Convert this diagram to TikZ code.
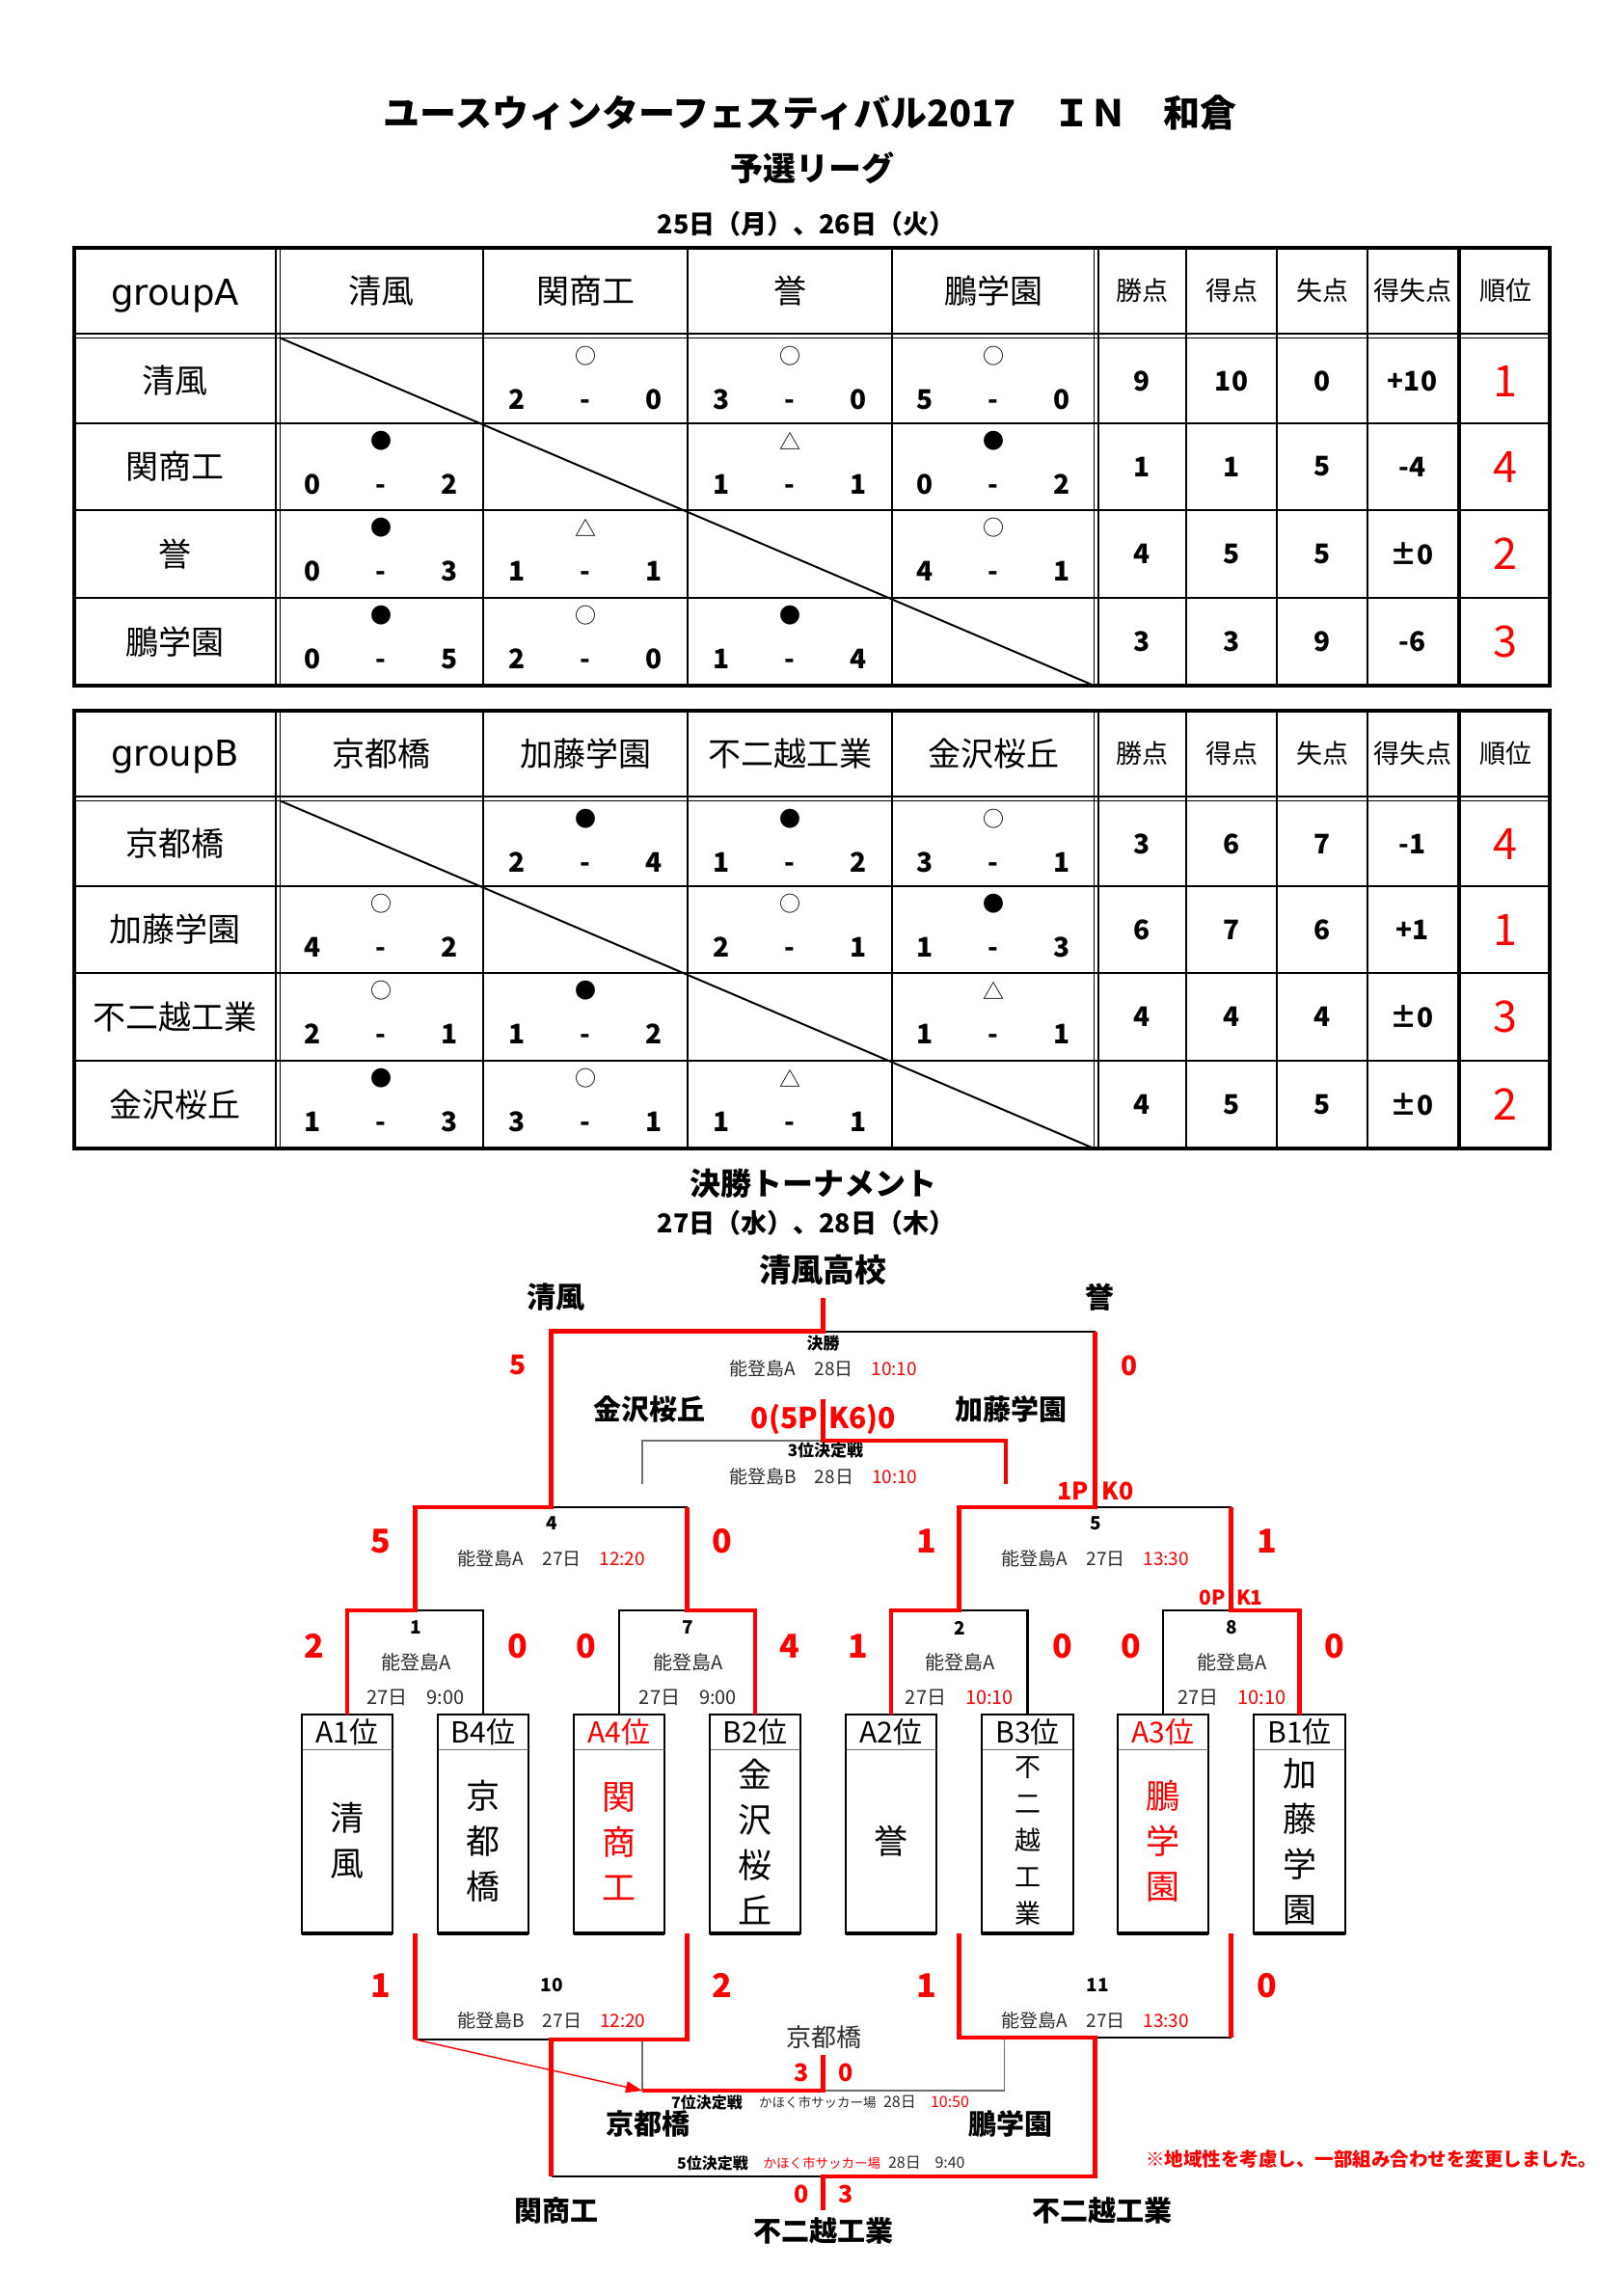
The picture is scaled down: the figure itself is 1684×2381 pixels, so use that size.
\documentclass[tikz,border=0pt]{standalone}
\usepackage{fontspec}
\setmainfont{Noto Sans CJK JP}
\newfontfamily\dvs{DejaVu Sans}
\usetikzlibrary{arrows.meta}
\definecolor{rd}{RGB}{255,0,0}
\definecolor{dk}{RGB}{45,45,45}
\definecolor{gy}{RGB}{110,110,110}
\newcommand\fpx[1]{\fontsize{\fpeval{#1*0.3535}pt}{\fpeval{#1*0.42}pt}\selectfont}
\newcommand\fpxs[2]{\fontsize{\fpeval{#1*0.3535}pt}{\fpeval{#2*0.3535}pt}\selectfont}
% match cell: prefix, x centre, row top, symbol, left score, right score
\newcommand\mcell[6]{%
  \node[symf] (#1s) at ({#2},{#3+18}) {#4};
  \node[scf] (#1a) at ({#2-71},{#3+73}) {#5};
  \node[scf] (#1m) at ({#2},{#3+73}) {-};
  \node[scf] (#1b) at ({#2+71},{#3+73}) {#6};}
% stats row: prefix, y centre, pts, gf, ga, gd, rank
\newcommand\srow[7]{%
  \node[stf] (#1w) at (1184.5,#2) {#3};
  \node[stf] (#1g) at (1277,#2) {#4};
  \node[stf] (#1l) at (1371,#2) {#5};
  \node[stf] (#1d) at (1464.5,#2) {#6};
  \node[rkf] (#1r) at (1561,#2) {#7};}
\newcommand\tgrid{%
  \draw[tin] (77,439) -- (1607,439) (77,529) -- (1607,529) (77,620) -- (1607,620);
  \draw[tin] (77,346) -- (1607,346) (77,350.5) -- (1607,350.5);
  \foreach \xx in {286,290.5,501,713,925,1134.5,1139,1230,1324,1418} \draw[tin] (\xx,257) -- (\xx,711);
  \draw[line width=1.4pt] (1513,257) -- (1513,711);
  \draw[tout] (77,257) rectangle (1607,711);
  \draw[line width=0.7pt] (290.5,350.5) -- (1134.5,711);}
\begin{document}
\begin{tikzpicture}[x=0.3535pt,y=-0.3535pt,
  every node/.style={inner sep=0pt,outer sep=0pt},
  tin/.style={line width=0.6pt},
  tout/.style={line width=1.3pt},
  symf/.style={font=\fpx{22}},
  scf/.style={font=\fpx{28}\bfseries,anchor=base},
  stf/.style={font=\fpx{28}\bfseries},
  rkf/.style={font=\fpx{45},text=rd},
  hdf/.style={font=\fpx{34}},
  shf/.style={font=\fpx{27}},
  bk/.style={line width=0.75pt},
  rl/.style={draw=rd,line width=1.6pt},
  gl/.style={draw=gy,line width=0.4pt},
  box/.style={draw,line width=0.8pt,minimum width=33.4pt,minimum height=80.2pt},
  inf/.style={font=\fpx{19},text=dk},
  mn/.style={font=\fpx{19}\bfseries},
  sr/.style={font=\fpx{34}\bfseries,text=rd},
  srs/.style={font=\fpx{28}\bfseries,text=rd},
  tn/.style={font=\fpx{29}\bfseries},
  vt/.style={font=\fpxs{35}{47},align=center},
]
\fill[white] (0,0) rectangle (1684,2381);
\useasboundingbox (0,0) rectangle (1684,2381);

% ---------- titles ----------
\node[font=\fpx{38}\bfseries] (title) at (840,117) {ユースウィンターフェスティバル2017　ＩＮ　和倉};
\node[font=\fpx{34}\bfseries] (sub1) at (842,174) {予選リーグ};
\node[font=\fpx{27}\bfseries] (sub2) at (836,232) {25日（月）、26日（火）};

% ---------- group A ----------
\tgrid
\node[font=\dvs\fpx{37}] (gA) at (181.5,307) {groupA};
\node[hdf] (hA1) at (395,301.5) {清風};
\node[hdf] (hA2) at (607,301.5) {関商工};
\node[hdf] (hA3) at (819,301.5) {誉};
\node[hdf] (hA4) at (1030,301.5) {鵬学園};
\node[shf] (hAw) at (1184.5,301.5) {勝点};
\node[shf] (hAg) at (1277,301.5) {得点};
\node[shf] (hAl) at (1371,301.5) {失点};
\node[shf] (hAd) at (1464.5,301.5) {得失点};
\node[shf] (hAr) at (1561,301.5) {順位};
\node[hdf] (rA1) at (181.5,395) {清風};
\node[hdf] (rA2) at (181.5,484) {関商工};
\node[hdf] (rA3) at (181.5,574.5) {誉};
\node[hdf] (rA4) at (181.5,665.5) {鵬学園};
\mcell{A12}{607}{351}{○}{2}{0}
\mcell{A13}{819}{351}{○}{3}{0}
\mcell{A14}{1030}{351}{○}{5}{0}
\mcell{A21}{395}{439}{●}{0}{2}
\mcell{A23}{819}{439}{△}{1}{1}
\mcell{A24}{1030}{439}{●}{0}{2}
\mcell{A31}{395}{529}{●}{0}{3}
\mcell{A32}{607}{529}{△}{1}{1}
\mcell{A34}{1030}{529}{○}{4}{1}
\mcell{A41}{395}{620}{●}{0}{5}
\mcell{A42}{607}{620}{○}{2}{0}
\mcell{A43}{819}{620}{●}{1}{4}
\srow{SA1}{395}{9}{10}{0}{+10}{1}
\srow{SA2}{484}{1}{1}{5}{-4}{4}
\srow{SA3}{574.5}{4}{5}{5}{±0}{2}
\srow{SA4}{665.5}{3}{3}{9}{-6}{3}

% ---------- group B ----------
\begin{scope}[shift={(0,480)}]
\tgrid
\node[font=\dvs\fpx{37}] (gB) at (181.5,305) {groupB};
\node[hdf] (hB1) at (395,301.5) {京都橋};
\node[hdf] (hB2) at (607,301.5) {加藤学園};
\node[hdf] (hB3) at (819,301.5) {不二越工業};
\node[hdf] (hB4) at (1030,301.5) {金沢桜丘};
\node[shf] (hBw) at (1184.5,301.5) {勝点};
\node[shf] (hBg) at (1277,301.5) {得点};
\node[shf] (hBl) at (1371,301.5) {失点};
\node[shf] (hBd) at (1464.5,301.5) {得失点};
\node[shf] (hBr) at (1561,301.5) {順位};
\node[hdf] (rB1) at (181.5,395) {京都橋};
\node[hdf] (rB2) at (181.5,484) {加藤学園};
\node[hdf] (rB3) at (181.5,574.5) {不二越工業};
\node[hdf] (rB4) at (181.5,665.5) {金沢桜丘};
\mcell{B12}{607}{351}{●}{2}{4}
\mcell{B13}{819}{351}{●}{1}{2}
\mcell{B14}{1030}{351}{○}{3}{1}
\mcell{B21}{395}{439}{○}{4}{2}
\mcell{B23}{819}{439}{○}{2}{1}
\mcell{B24}{1030}{439}{●}{1}{3}
\mcell{B31}{395}{529}{○}{2}{1}
\mcell{B32}{607}{529}{●}{1}{2}
\mcell{B34}{1030}{529}{△}{1}{1}
\mcell{B41}{395}{620}{●}{1}{3}
\mcell{B42}{607}{620}{○}{3}{1}
\mcell{B43}{819}{620}{△}{1}{1}
\srow{SB1}{395}{3}{6}{7}{-1}{4}
\srow{SB2}{484}{6}{7}{6}{+1}{1}
\srow{SB3}{574.5}{4}{4}{4}{±0}{3}
\srow{SB4}{665.5}{4}{5}{5}{±0}{2}
\end{scope}

% ---------- tournament titles ----------
\node[font=\fpx{32}\bfseries] (sub3) at (843,1227) {決勝トーナメント};
\node[font=\fpx{27}\bfseries] (sub4) at (836,1268) {27日（水）、28日（木）};

% ---------- boxes ----------
\foreach \nm/\xc/\lab/\col in {A1/360/A1位/black,B4/501/B4位/black,A4/642/A4位/rd,B2/783/B2位/black,A2/924/A2位/black,B3/1065.5/B3位/black,A3/1206/A3位/rd,B1/1347.5/B1位/black}{
  \node[box] (b\nm) at (\xc,1891.5) {};
  \draw[draw=gy,line width=0.4pt] ({\xc-46.5},1814.6) -- ({\xc+46.5},1814.6);
  \draw[line width=1.3pt] (b\nm.south west) -- (b\nm.south east);
  \node[font=\fpx{30},text=\col] (l\nm) at (\xc,1796) {\lab};
}
\node[vt] (nA1) at (360,1908.5) {清\\風};
\node[vt] (nB4) at (501,1909.5) {京\\都\\橋};
\node[vt,text=rd] (nA4) at (642,1909.5) {関\\商\\工};
\node[vt] (nB2) at (783,1909.5) {金\\沢\\桜\\丘};
\node[vt] (nA2) at (924,1909.5) {誉};
\node[font=\fpxs{27}{38},align=center] (nB3) at (1065.5,1909) {不\\二\\越\\工\\業};
\node[vt,text=rd] (nA3) at (1206,1909.5) {鵬\\学\\園};
\node[vt] (nB1) at (1347.5,1909.5) {加\\藤\\学\\園};

% ---------- bracket coordinates ----------
\coordinate (m1) at (430.5,1670);
\coordinate (m7) at (712.5,1670);
\coordinate (m2) at (994.5,1670);
\coordinate (m8) at (1276.5,1670);
\coordinate (m4) at (571.5,1563);
\coordinate (m5) at (1135.5,1563);
\coordinate (fin) at (853.5,1380.6);
\coordinate (stemtop) at (853.5,1346);
\coordinate (t3) at (853.5,1494);
\coordinate (t3L) at (666,1539);
\coordinate (t3R) at (1043,1539);
\coordinate (t3top) at (853.5,1451);
\coordinate (l10a) at (430.5,2005);
\coordinate (l10b) at (712.5,2005);
\coordinate (m10) at (571.5,2115);
\coordinate (l11a) at (994.5,2005);
\coordinate (l11b) at (1276.5,2005);
\coordinate (m11) at (1135.5,2113);
\coordinate (p5) at (853.5,2257);
\coordinate (p5b) at (853.5,2292);
\coordinate (a7) at (666,2168);
\coordinate (g7L) at (666,2115);
\coordinate (p7) at (853.5,2168);
\coordinate (p7top) at (853.5,2131);
\coordinate (g7R) at (1041.6,2113);

% black lines
\draw[bk] (bB4.north) |- (m1);
\draw[bk] (bA4.north) |- (m7);
\draw[bk] (bB3.north) |- (m2);
\draw[bk] (bA3.north) |- (m8);
\draw[bk] (m4) -- (m7 |- m4);
\draw[bk] (m5) -- (m8 |- m5);
\draw[bk] (fin) -- (m5 |- fin);
\draw[bk] (l10a |- m10) -- (m10);
\draw[bk] (m11) -- (l11b |- m11);
\draw[bk] (m10 |- p5) -- (p5);
% grey lines
\draw[gl] (t3L) |- (t3);
\draw[gl] (g7L) -- (a7);
\draw[gl] (g7R) |- (p7);
% red lines
\draw[rl] (bA1.north) |- (m1) |- (m4) |- (fin) -- (stemtop);
\draw[rl] (bB2.north) |- (m7) -- (m7 |- m4);
\draw[rl] (bA2.north) |- (m2) |- (m5) -- (m5 |- fin);
\draw[rl] (bB1.north) |- (m8) -- (m8 |- m5);
\draw[rl] (t3R) |- (t3) -- (t3top);
\draw[rl] (l10a) -- (l10a |- m10);
\draw[rl] (l10b) |- (m10) -- (m10 |- p5);
\draw[rl] (l11b) -- (l11b |- m11);
\draw[rl] (l11a) |- (m11) -- (m11 |- p5) -- (p5) -- (p5b);
\draw[rl] (a7) -- (p7) -- (p7top);
\draw[draw=rd,line width=0.5pt,-{Triangle[length=6pt,width=4.2pt]}] (l10a |- m10) -- (a7);

% ---------- tournament labels ----------
\node[font=\fpx{33}\bfseries] (champ) at (853.5,1317) {清風高校};
\node[font=\fpx{30}\bfseries] (fL) at (576,1345) {清風};
\node[font=\fpx{30}\bfseries] (fR) at (1140.5,1345) {誉};
\node[srs] (fsL) at (537,1416) {5};
\node[srs] (fsR) at (1171,1416) {0};
\node[font=\fpx{17}\bfseries] (finT) at (853.5,1393) {決勝};
\node[inf] (finI) at (854,1419) {能登島A　28日　\textcolor{rd}{10:10}};
\node[tn] (t3a) at (673,1461) {金沢桜丘};
\node[tn] (t3b) at (1048,1461) {加藤学園};
\node[font=\fpx{30}\bfseries,text=rd,anchor=east] (t3sL) at (848,1472) {0(5P};
\node[font=\fpx{30}\bfseries,text=rd,anchor=west] (t3sR) at (859,1472) {K6)0};
\node[font=\fpx{17}\bfseries] (t3T) at (856,1504) {3位決定戦};
\node[inf] (t3I) at (854,1531) {能登島B　28日　\textcolor{rd}{10:10}};
\node[font=\fpx{25}\bfseries,text=rd,anchor=east] (pk5L) at (1129,1546) {1P};
\node[font=\fpx{25}\bfseries,text=rd,anchor=west] (pk5R) at (1142.6,1546) {K0};
\node[sr] (s4L) at (395,1598) {5};
\node[sr] (s4R) at (749,1598) {0};
\node[sr] (s5L) at (961,1598) {1};
\node[sr] (s5R) at (1313.5,1598) {1};
\node[mn] (n4) at (572,1580) {4};
\node[inf] (i4) at (572,1616) {能登島A　27日　\textcolor{rd}{12:20}};
\node[mn] (n5) at (1136,1580) {5};
\node[inf] (i5) at (1136,1616) {能登島A　27日　\textcolor{rd}{13:30}};
\node[font=\fpx{21}\bfseries,text=rd,anchor=east] (pk8L) at (1271,1657) {0P};
\node[font=\fpx{21}\bfseries,text=rd,anchor=west] (pk8R) at (1282,1657) {K1};
\node[sr] (s1L) at (326,1707) {2};
\node[sr] (s1R) at (537,1707) {0};
\node[sr] (s7L) at (608,1707) {0};
\node[sr] (s7R) at (819,1707) {4};
\node[sr] (s2L) at (890,1707) {1};
\node[sr] (s2R) at (1102,1707) {0};
\node[sr] (s8L) at (1173,1707) {0};
\node[sr] (s8R) at (1384,1707) {0};
\node[mn] (n1) at (431,1688) {1};
\node[mn] (n7) at (713.5,1688) {7};
\node[mn] (n2) at (995,1688) {2};
\node[mn] (n8) at (1277.5,1688) {8};
\node[font=\fpx{20},text=dk] (v1) at (432,1724) {能登島A};
\node[font=\fpx{20},text=dk] (v7) at (714,1724) {能登島A};
\node[font=\fpx{20},text=dk] (v2) at (996,1724) {能登島A};
\node[font=\fpx{20},text=dk] (v8) at (1278,1724) {能登島A};
\node[font=\fpx{20},text=dk] (d1) at (431,1760) {27日　9:00};
\node[font=\fpx{20},text=dk] (d7) at (713.5,1760) {27日　9:00};
\node[font=\fpx{20},text=dk] (d2) at (995,1760) {27日　\textcolor{rd}{10:10}};
\node[font=\fpx{20},text=dk] (d8) at (1277.5,1760) {27日　\textcolor{rd}{10:10}};
% lower bracket
\node[sr] (s10L) at (395,2059) {1};
\node[sr] (s10R) at (749,2059) {2};
\node[sr] (s11L) at (961,2059) {1};
\node[sr] (s11R) at (1313.5,2059) {0};
\node[mn] (n10) at (572,2059) {10};
\node[inf] (i10) at (572,2095) {能登島B　27日　\textcolor{rd}{12:20}};
\node[mn] (n11) at (1138,2059) {11};
\node[inf] (i11) at (1136,2095) {能登島A　27日　\textcolor{rd}{13:30}};
\node[font=\fpx{26},text=dk] (k7) at (854,2113) {京都橋};
\node[font=\fpx{25}\bfseries,text=rd] (s7thL) at (831,2149) {3};
\node[font=\fpx{25}\bfseries,text=rd] (s7thR) at (877,2149) {0};
\node[font=\fpx{16}\bfseries,anchor=west] (t7a) at (696,2180) {7位決定戦};
\node[font=\fpx{13.5},text=dk,anchor=west] (t7b) at (787,2180) {かほく市サッカー場};
\node[font=\fpx{16},text=dk,anchor=west] (t7c) at (916,2180) {28日};
\node[font=\fpx{16},text=rd,anchor=west] (t7d) at (965,2180) {10:50};
\node[tn] (k7L) at (672,2202) {京都橋};
\node[tn] (k7R) at (1048,2202) {鵬学園};
\node[font=\fpx{16}\bfseries,anchor=west] (t5a) at (702,2243) {5位決定戦};
\node[font=\fpx{13.5},text=rd,anchor=west] (t5b) at (791.6,2243) {かほく市サッカー場};
\node[font=\fpx{16},text=dk,anchor=west] (t5c) at (921,2243) {28日};
\node[font=\fpx{16},text=dk,anchor=west] (t5d) at (969.5,2243) {9:40};
\node[font=\fpx{19.5}\bfseries,text=rd,anchor=west] (note) at (1188,2239) {※地域性を考慮し、一部組み合わせを変更しました。};
\node[font=\fpx{25}\bfseries,text=rd] (s5thL) at (831,2275) {0};
\node[font=\fpx{25}\bfseries,text=rd] (s5thR) at (877,2275) {3};
\node[tn] (k5L) at (577,2292) {関商工};
\node[tn] (k5C) at (854,2313) {不二越工業};
\node[tn] (k5R) at (1143,2292) {不二越工業};
\end{tikzpicture}
\end{document}
